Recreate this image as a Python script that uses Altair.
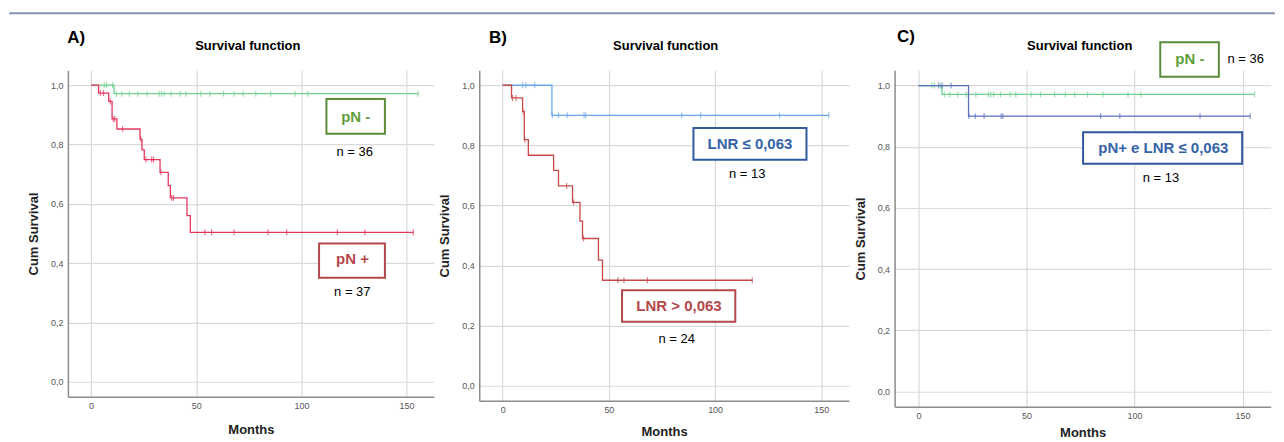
import altair as alt
import pandas as pd

# ---------------- data ----------------
# pN - (n = 36)
pn_neg_step_t = [0, 10.9, 155.5]
pn_neg_step_s = [1.0, 0.971, 0.971]
pn_neg_cens_t = [6.3, 7.4, 10.3, 12.0, 14.6, 18.2, 22.2, 26.6, 32.4, 33.5, 34.8, 38.0,
                 42.4, 45.1, 52.2, 56.5, 63.0, 68.0, 72.3, 78.3, 85.4, 97.0, 103.0, 155.5]

# pN + (n = 37)
pn_pos_step_t = [0, 3.6, 8.4, 10.0, 12.3, 23.3, 24.2, 25.3, 32.8, 36.7, 37.7, 45.6, 47.2, 153.2]
pn_pos_step_s = [1.0, 0.973, 0.945, 0.886, 0.852, 0.818, 0.782, 0.749, 0.706, 0.661, 0.620,
                 0.560, 0.504, 0.504]
pn_pos_cens_t = [4.4, 5.9, 9.2, 10.5, 11.2, 15.0, 23.6, 26.1, 28.8, 29.7, 33.2, 38.3, 39.2,
                 54.1, 57.3, 68.0, 84.1, 93.0, 117.1, 130.2, 153.2]

# LNR <= 0,063 (n = 13)
lnr_lo_step_t = [0, 23.2, 153.5]
lnr_lo_step_s = [1.0, 0.9, 0.9]
lnr_lo_cens_t = [9.4, 11.0, 15.1, 23.4, 26.3, 30.4, 38.3, 39.1, 84.3, 93.2, 130.3, 153.5]

# LNR > 0,063 (n = 24)
lnr_hi_step_t = [0, 4.2, 9.4, 10.2, 12.1, 24.0, 26.3, 32.9, 36.4, 37.6, 45.1, 47.0, 117.5]
lnr_hi_step_s = [1.0, 0.958, 0.913, 0.819, 0.767, 0.717, 0.665, 0.610, 0.548, 0.490, 0.418,
                 0.351, 0.351]
lnr_hi_cens_t = [4.7, 6.3, 9.6, 10.4, 30.1, 33.4, 38.1, 54.3, 57.1, 68.1, 117.5]

x_ticks = [0, 50, 100, 150]
y_ticks = [0.0, 0.2, 0.4, 0.6, 0.8, 1.0]

# annotation boxes (data coordinates): x, x2, y, y2, colour
a_box_x = [111.9, 108.4]
a_box_x2 = [139.7, 139.7]
a_box_y = [0.953, 0.466]
a_box_y2 = [0.836, 0.351]
a_lab_x = [125.8, 124.3]
a_lab_y = [0.894, 0.413]
a_lab_txt = ["pN -", "pN +"]
a_n_x = [125.3, 124.2]
a_n_y = [0.776, 0.302]
a_n_txt = ["n = 36", "n = 37"]

b_box_x = [89.8, 56.2]
b_box_x2 = [143.0, 109.5]
b_box_y = [0.858, 0.318]
b_box_y2 = [0.752, 0.213]
b_lab_x = [116.4, 83.0]
b_lab_y = [0.805, 0.266]
b_lab_txt = ["LNR ≤ 0,063", "LNR > 0,063"]
b_n_x = [115.1, 81.9]
b_n_y = [0.703, 0.157]
b_n_txt = ["n = 13", "n = 24"]

c_box_x = [111.9, 76.2]
c_box_x2 = [139.0, 149.8]
c_box_y = [1.1415, 0.847]
c_box_y2 = [1.029, 0.744]
c_lab_x = [125.6, 113.3]
c_lab_y = [1.087, 0.795]
c_lab_txt = ["pN -", "pN+ e LNR ≤ 0,063"]
c_n_x = [151.4, 112.2]
c_n_y = [1.088, 0.699]
c_n_txt = ["n = 36", "n = 13"]

# ---------------- styling ----------------
FONT = "Liberation Sans"
XDOM = [-11, 163]
YDOM = [-0.05, 1.05]
GREEN = "#6fd28e"
RED_A = "#e5385e"
RED_B = "#c94848"
BLUE_B = "#6ba6ec"
BLUE_C = "#5a6fbf"
BOX_GREEN = "#5b8c3a"
TXT_GREEN = "#5f9d3d"
BOX_RED = "#b5474b"
BOX_BLUE = "#2f5aa0"
TXT_BLUE = "#3462a8"


def level_at(t, st, ss):
    lvl = ss[0]
    for a, b in zip(st, ss):
        if a <= t:
            lvl = b
    return lvl


def xch(pad):
    return alt.X("t:Q", scale=alt.Scale(domain=XDOM, nice=False, zero=False),
                 axis=alt.Axis(values=x_ticks, title="Months", titlePadding=pad,
                               labelExpr="format(datum.value, 'd')"))


def ych():
    return alt.Y("s:Q", scale=alt.Scale(domain=YDOM, nice=False, zero=False),
                 axis=alt.Axis(values=y_ticks, title="Cum Survival",
                               labelExpr="replace(format(datum.value, '.1f'), '.', ',')"))


def curve(st, ss, ct, color, pad):
    d = pd.DataFrame({"t": st, "s": ss})
    line = alt.Chart(d).mark_line(interpolate="step-after", color=color, strokeWidth=1.3).encode(
        x=xch(pad), y=ych())
    c = pd.DataFrame({"t": ct, "s": [level_at(t, st, ss) for t in ct]})
    ticks = alt.Chart(c).mark_tick(orient="vertical", color=color, size=6, thickness=1.2).encode(
        x=xch(pad), y=ych())
    return [line, ticks]


def boxes(bx, bx2, by, by2, cols, pad):
    d = pd.DataFrame({"t": bx, "t2": bx2, "s": by, "s2": by2, "c": cols})
    return alt.Chart(d).mark_rect(fill="white", strokeWidth=2).encode(
        x=xch(pad), x2="t2:Q", y=ych(), y2="s2:Q", stroke=alt.Stroke("c:N", scale=None))


def labels(tx, ty, tt, cols, size, weight, pad):
    d = pd.DataFrame({"t": tx, "s": ty, "txt": tt, "c": cols})
    return alt.Chart(d).mark_text(fontSize=size, fontWeight=weight, font=FONT,
                                  align="center", baseline="middle").encode(
        x=xch(pad), y=ych(), text="txt:N", color=alt.Color("c:N", scale=None))


def pix_text(txt, px, py, size):
    return alt.Chart(pd.DataFrame({"k": [0]})).mark_text(
        text=txt, fontSize=size, fontWeight="bold", font=FONT, color="black",
        align="center", baseline="middle").encode(x=alt.value(px), y=alt.value(py))


top_rule = alt.Chart(pd.DataFrame({"k": [0]})).mark_rule(color="#8596ae", strokeWidth=2).encode(
    x=alt.value(-58.8), x2=alt.value(1209), y=alt.value(-57))

# ---------------- panel A ----------------
padA = 13
panelA = alt.layer(
    top_rule,
    boxes(a_box_x, a_box_x2, a_box_y, a_box_y2, [BOX_GREEN, BOX_RED], padA),
    *curve(pn_neg_step_t, pn_neg_step_s, pn_neg_cens_t, GREEN, padA),
    *curve(pn_pos_step_t, pn_pos_step_s, pn_pos_cens_t, RED_A, padA),
    labels(a_lab_x, a_lab_y, a_lab_txt, [TXT_GREEN, BOX_RED], 15, "bold", padA),
    labels(a_n_x, a_n_y, a_n_txt, ["black", "black"], 13, "normal", padA),
    pix_text("A)", 8.2, -32, 17),
    pix_text("Survival function", 180.2, -24, 13),
).properties(width=366.6, height=327)

# ---------------- panel B ----------------
padB = 11
panelB = alt.layer(
    boxes(b_box_x, b_box_x2, b_box_y, b_box_y2, [BOX_BLUE, BOX_RED], padB),
    *curve(lnr_lo_step_t, lnr_lo_step_s, lnr_lo_cens_t, BLUE_B, padB),
    *curve(lnr_hi_step_t, lnr_hi_step_s, lnr_hi_cens_t, RED_B, padB),
    labels(b_lab_x, b_lab_y, b_lab_txt, [TXT_BLUE, BOX_RED], 15, "bold", padB),
    labels(b_n_x, b_n_y, b_n_txt, ["black", "black"], 13, "normal", padB),
    pix_text("B)", 18.7, -32, 17),
    pix_text("Survival function", 186.7, -24, 13),
).properties(width=370.3, height=331)

# ---------------- panel C ----------------
padC = 6
panelC = alt.layer(
    boxes(c_box_x, c_box_x2, c_box_y, c_box_y2, [BOX_GREEN, BOX_BLUE], padC),
    *curve(pn_neg_step_t, pn_neg_step_s, pn_neg_cens_t, GREEN, padC),
    *curve(lnr_lo_step_t, lnr_lo_step_s, lnr_lo_cens_t, BLUE_C, padC),
    labels(c_lab_x, c_lab_y, c_lab_txt, [TXT_GREEN, TXT_BLUE], 15, "bold", padC),
    labels(c_n_x, c_n_y, c_n_txt, ["black", "black"], 13, "normal", padC),
    pix_text("C)", 11.4, -33, 17),
    pix_text("Survival function", 185.4, -24, 13),
).properties(width=376.7, height=337)

chart = alt.hconcat(panelA, panelB, panelC, spacing=45, bounds="flush").properties(
    padding={"left": 0, "top": 4, "right": 0, "bottom": 0}
).configure(font=FONT).configure_view(stroke=None).configure_axis(
    labelFont=FONT, titleFont=FONT, labelFontSize=9, labelColor="#555555",
    titleFontSize=13, titleFontWeight="bold", titleColor="#222222",
    domainColor="#8c8c8c", domainWidth=1.5, gridColor="#dadada", gridWidth=1.2,
    ticks=False, tickSize=0, labelPadding=5
).configure_axisY(titlePadding=10)

chart.save("out.html", embed_options={"renderer": "svg", "actions": False})
